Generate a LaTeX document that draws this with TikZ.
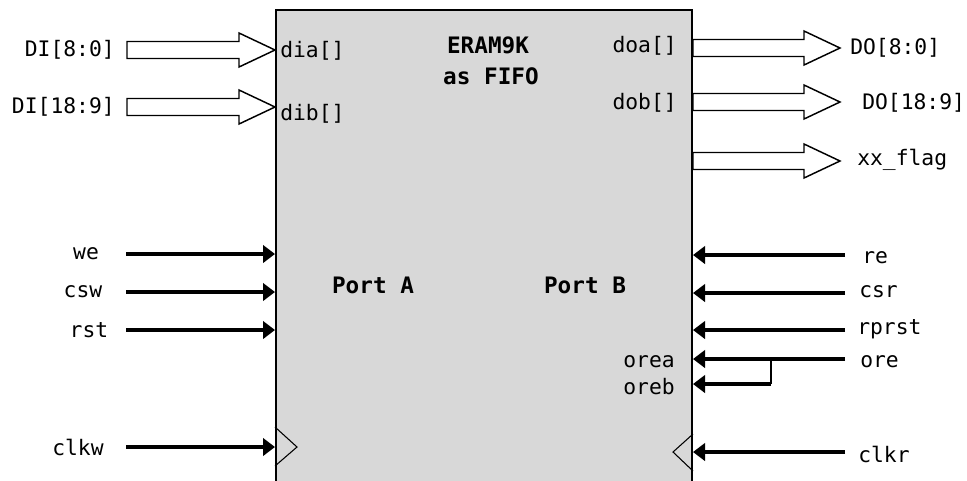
\documentclass[tikz,border=0pt]{standalone}
\usepackage{fontspec}
\setmonofont{DejaVu Sans Mono}
\usetikzlibrary{arrows.meta, positioning, calc}
\definecolor{BlockGray}{HTML}{D8D8D8}

\tikzset{
  sig/.style={line width=3pt, -{Triangle[length=9pt, width=13pt]}},
  bus/.style={line width=1.1pt, fill=white},
  lbl/.style={font=\ttfamily\fontsize{16}{18}\selectfont, inner sep=0pt},
  blbl/.style={font=\ttfamily\bfseries\fontsize{17}{20}\selectfont, inner sep=0pt},
  block/.style={draw, line width=1.5pt, fill=BlockGray, minimum width=312pt, minimum height=360pt},
}
% hollow bus arrow: tail, tip
\newcommand{\busarrow}[2]{%
  \draw[bus] ($(#1)+(0,8.5)$) -- ($(#2)+(-36,8.5)$) -- ($(#2)+(-36,17)$) -- (#2)
    -- ($(#2)+(-36,-17)$) -- ($(#2)+(-36,-8.5)$) -- ($(#1)+(0,-8.5)$) -- cycle;}

\begin{document}
\begin{tikzpicture}[x=0.75pt, y=-0.75pt]
    \useasboundingbox (0,0) rectangle (967,480);

    % Block
    \node (ram) [block] at (484,250) {};
    \node (name) [blbl] at (488,45) {ERAM9K};
    \node (fifo) [blbl] at (491,76) {as FIFO};
    \node (porta) [blbl] at (373,285) {Port A};
    \node (portb) [blbl] at (585,285) {Port B};

    % Data buses in
    \coordinate (dia-t) at (127,50);
    \coordinate (dib-t) at (127,107);
    \coordinate (dia) at (ram.west |- 0,50);
    \coordinate (dib) at (ram.west |- 0,107);
    \node (di0) [lbl, left=9pt of dia-t] {DI[8:0]};
    \node (di1) [lbl, left=9pt of dib-t] {DI[18:9]};
    \busarrow{dia-t}{dia}
    \busarrow{dib-t}{dib}
    \node (dia-l) [lbl, anchor=west] at (280,51) {dia[]};
    \node (dib-l) [lbl, anchor=west] at (280,114) {dib[]};

    % Data buses out
    \coordinate (doa) at (ram.east |- 0,48);
    \coordinate (dob) at (ram.east |- 0,102);
    \coordinate (flag) at (ram.east |- 0,161);
    \coordinate (doa-h) at (840,48);
    \coordinate (dob-h) at (840,102);
    \coordinate (flag-h) at (840,161);
    \busarrow{doa}{doa-h}
    \busarrow{dob}{dob-h}
    \busarrow{flag}{flag-h}
    \node (do0) [lbl, anchor=west] at (850,48) {DO[8:0]};
    \node (do1) [lbl, anchor=west] at (862,103) {DO[18:9]};
    \node (xxflag) [lbl, anchor=west] at (857,160) {xx\_flag};
    \node (doa-l) [lbl, anchor=east] at (677,46) {doa[]};
    \node (dob-l) [lbl, anchor=east] at (677,103) {dob[]};

    % Port A controls
    \foreach \s/\y/\x in {we/254/86, csw/292/83, rst/330/89, clkw/447/78} {
        \node (\s) [lbl] at (\x,\y) {\s};
        \coordinate (\s-t) at (126,\y);
        \coordinate (\s-p) at (ram.west |- 0,\y);
        \draw[sig] (\s-t) -- (\s-p);
    }

    % Port B controls
    \foreach \s/\y/\ly/\x in {re/255/258/862, csr/293/292/859, rprst/330/329/857, ore/359/362/860, clkr/452/454/858} {
        \node (\s) [lbl, anchor=west] at (\x,\ly) {\s};
        \coordinate (\s-t) at (845,\y);
        \coordinate (\s-p) at (ram.east |- 0,\y);
        \draw[sig] (\s-t) -- (\s-p);
    }
    \coordinate (ore-j) at (771,359);
    \coordinate (oreb-j) at (771,384);
    \draw[line width=1.2pt] (ore-j) -- (oreb-j);
    \draw[sig] (oreb-j) -- (ram.east |- 0,384);
    \node (orea) [lbl, anchor=east] at (675,362) {orea};
    \node (oreb) [lbl, anchor=east] at (675,387) {oreb};

    % Clock marks
    \draw[line width=0.8pt] (ram.west |- 0,427) -- (297,447) -- (ram.west |- 0,466);
    \draw[line width=0.8pt] (ram.east |- 0,434) -- (673,452) -- (ram.east |- 0,471);
\end{tikzpicture}
\end{document}
